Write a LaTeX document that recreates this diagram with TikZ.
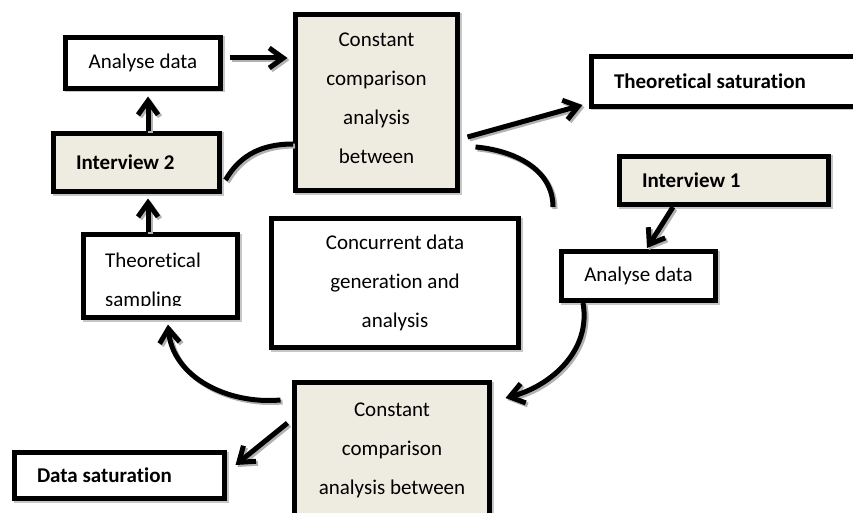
\documentclass[tikz,border=0pt]{standalone}
\usepackage{fontspec}
\setmainfont{Carlito}[Ligatures=NoCommon]
\usetikzlibrary{arrows.meta,calc}
\definecolor{boxtan}{HTML}{EEECE1}
\begin{document}
\begin{tikzpicture}[x=1pt,y=-1pt,
  box/.style={rectangle, draw=black, line width=5pt, fill=white, inner sep=0pt,
    font=\fontsize{21}{39}\selectfont, align=center,
    preaction={draw=gray!45, line width=5pt, transform canvas={shift={(1.5pt,-1.5pt)}}}},
  tanbox/.style={box, fill=boxtan},
  leftbox/.style={align=flush left, inner xsep=22.5pt, font=\fontsize{21}{39}\selectfont\bfseries},
  txt/.style={inner sep=0pt, font=\fontsize{21}{39}\selectfont},
  link/.style={draw=black, line width=5pt,
    preaction={draw=gray!60, line width=5pt, transform canvas={shift={(2pt,-2pt)}}}},
  arr/.style={link, -{Straight Barb[length=14pt,width=20pt]}}
]
\useasboundingbox (0,0) rectangle (853,513);
\clip (0,0) rectangle (853,513);

% boxes
\node[box, minimum width=155pt, minimum height=51pt] (ad1) at (143,63) {Analyse data};
\node[tanbox, minimum width=162pt, minimum height=176pt, text depth=8pt] (cc1) at (376.5,102.5)
  {Constant\\comparison\\analysis\\between};
\node[box, leftbox, minimum width=279pt, minimum height=50pt, text width=234pt] (ts) at (731,81.5)
  {Theoretical saturation};
\node[tanbox, leftbox, minimum width=166pt, minimum height=58pt, text width=121pt] (iv2) at (136.5,162.5)
  {Interview 2};
\node[tanbox, leftbox, minimum width=209pt, minimum height=48pt, text width=164pt] (iv1) at (724,180.5)
  {Interview 1};
\node[box, minimum width=154pt, minimum height=83pt] (tsamp) at (160.5,276) {};
\node[txt, anchor=base west] (tsampa) at (105,267) {Theoretical};
\begin{scope}
  \clip (83.5,234.5) rectangle (237.5,305.5);
  \node[txt, anchor=base west] (tsampb) at (105,306) {sampling};
\end{scope}
\node[box, minimum width=247pt, minimum height=129pt] (conc) at (395,283)
  {Concurrent data\\generation and\\analysis};
\node[box, minimum width=154pt, minimum height=49pt] (ad2) at (638.5,276) {Analyse data};
\node[tanbox, minimum width=195pt, minimum height=135pt] (cc2) at (392,450)
  {Constant\\comparison\\analysis between};
\node[box, leftbox, minimum width=210pt, minimum height=46pt, text width=165pt] (ds) at (119.5,475.5)
  {Data saturation};

% free end of the open arc on the right
\coordinate (cc1f) at (553,207);

% connectors
\draw[arr] ($(ad1.east)+(6.5,-5)$) -- ($(cc1.west |- ad1.east)+(-5.5,-5)$);
\draw[arr] ($(iv2.north)+(11.5,0)$) -- ($(ad1.south)+(5,5.5)$);
\draw[arr] ($(tsamp.north)+(-12.5,0)$) -- ($(iv2.south)+(11.5,4.5)$);
\draw[link] ($(iv2.east)+(3.5,17.5)$) to[out=60,in=180] ($(cc1.west)+(0,41.5)$);
\draw[arr] ($(cc1.east)+(7.5,34.5)$) -- ($(ts.west)+(-6.5,23.5)$);
\draw[link] ($(cc1.east)+(15.5,44.5)$) to[out=-5,in=90] (cc1f);
\draw[arr] ($(iv1.south)+(-51,0)$) -- ($(ad2.north)+(8.5,-1)$);
\draw[arr] ($(ad2.south)+(-55.5,0)$) to[out=-80,in=15] ($(cc2.east)+(13.5,-52)$);
\draw[arr] ($(cc2.west)+(-11.5,-50)$) to[out=185,in=-85] ($(tsamp.south)+(7.5,4.5)$);
\draw[arr] ($(cc2.west)+(-4.5,-27)$) -- ($(ds.east)+(8.5,-10.5)$);
\end{tikzpicture}
\end{document}
